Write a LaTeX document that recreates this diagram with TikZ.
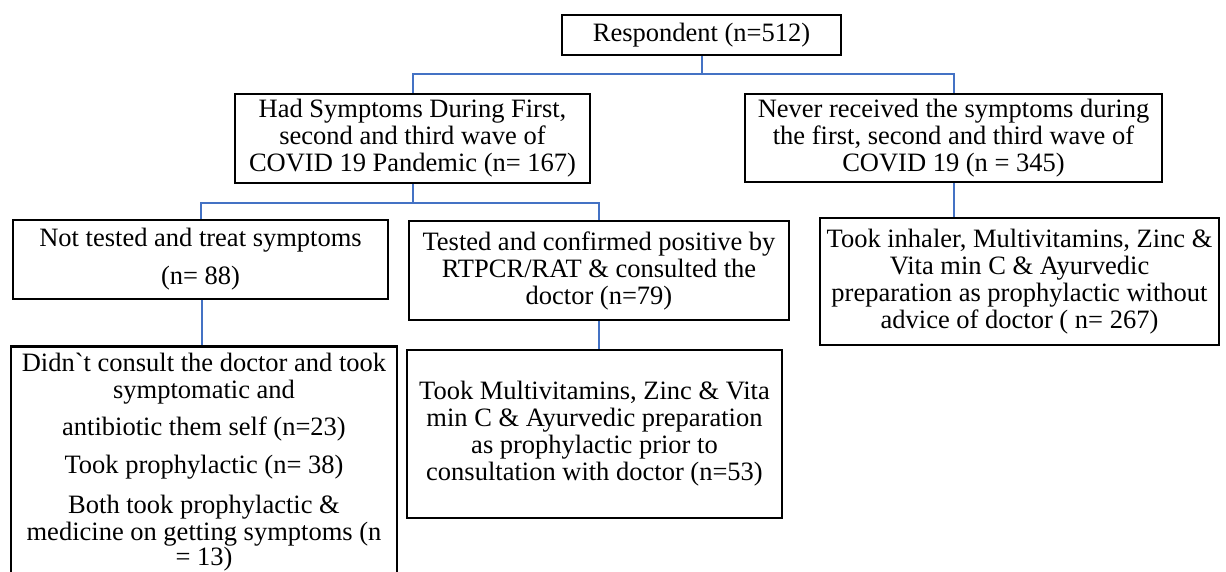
\documentclass[tikz,border=0pt]{standalone}
\usepackage{fontspec}
\setmainfont{Liberation Serif}
\usetikzlibrary{calc}
\definecolor{connblue}{RGB}{68,114,196}
\tikzset{
  box/.style={draw=black, line width=2.6pt, inner sep=0pt, align=center,
    font=\fontsize{26.5}{27}\selectfont},
  conn/.style={draw=connblue, line width=2pt}
}
\begin{document}
\begin{tikzpicture}[x=1pt,y=-1pt]
\useasboundingbox (0,0) rectangle (1226,572);
\clip (0,0) rectangle (1226,572);
\node[box, minimum width=279pt, minimum height=40pt] (resp) at (701.5,35) {Respondent (n=512)};
\node[box, minimum width=355pt, minimum height=89pt] (had) at (412.5,138.5)
  {Had Symptoms During First,\\ second and third wave of\\ COVID 19 Pandemic (n= 167)};
\node[box, minimum width=417pt, minimum height=88pt] (never) at (953.5,138)
  {Never received the symptoms during\\ the first, second and third wave of\\ COVID 19 (n = 345)};
\node[box, minimum width=375pt, minimum height=79pt] (nt) at (200.5,259.5)
  {Not tested and treat symptoms\\[11pt] (n= 88)};
\node[box, minimum width=380pt, minimum height=99pt] (tested) at (599,270.5)
  {Tested and confirmed positive by\\ RTPCR/RAT \& consulted the\\ doctor (n=79)};
\node[box, minimum width=399pt, minimum height=127pt] (inhaler) at (1019.5,281.5)
  {Took inhaler, Multivitamins, Zinc \&\\ Vita min C \& Ayurvedic\\ preparation as prophylactic without\\ advice of doctor ( n= 267)};
\node[box, minimum width=386pt, minimum height=231pt] (didnt) at (204,462)
  {Didn\textasciigrave t consult the doctor and took\\ symptomatic and\\[10pt] antibiotic them self (n=23)\\[11pt] Took prophylactic (n= 38)\\[13pt] Both took prophylactic \&\\ medicine on getting symptoms (n\\[-2pt] = 13)};
\node[box, minimum width=375pt, minimum height=168pt] (multi) at (594.5,434)
  {Took Multivitamins, Zinc \& Vita\\ min C \& Ayurvedic preparation\\ as prophylactic prior to\\ consultation with doctor (n=53)};
\draw[conn] (resp.south) -- ++(0,18) -| (had.north);
\draw[conn] (resp.south) -- ++(0,18) -| (never.north);
\draw[conn] (had.south) -- ++(0,19) -| (nt.north);
\draw[conn] (had.south) -- ++(0,19) -| (tested.north);
\draw[conn] (never.south) -- (never.south |- inhaler.north);
\draw[conn] ($(nt.south)+(1.5,0)$) -- ($(nt.south |- didnt.north)+(1.5,0)$);
\draw[conn] (tested.south) -- (tested.south |- multi.north);
\end{tikzpicture}
\end{document}
